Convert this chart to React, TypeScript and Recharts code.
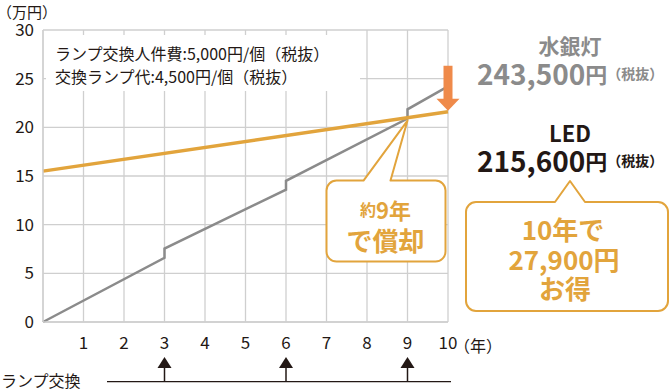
import { LineChart, Line, XAxis, YAxis, CartesianGrid, ReferenceDot } from "recharts";

// years on the x axis, cost in 万円 on the y axis
const yearTicks = [1, 2, 3, 4, 5, 6, 7, 8, 9, 10];
const costTicks = [0, 5, 10, 15, 20, 25, 30];

// 水銀灯: steps up at every lamp change
const mercuryYears = [0, 3, 3, 6, 6, 9, 9, 10];
const mercuryCost = [0, 6.6, 7.55, 13.6, 14.5, 20.9, 21.85, 24.2];

// LED: initial cost, then only electricity
const ledYears = [0, 10];
const ledCost = [15.5, 21.6];

const lampChangeYears = [3, 6, 9];
const breakEvenYear = 9;
const breakEvenCost = 20.9;

const mercuryData = mercuryYears.map((year, i) => ({ year, cost: mercuryCost[i] }));
const ledData = ledYears.map((year, i) => ({ year, cost: ledCost[i] }));

const FONT = '"Noto Sans CJK JP", "Noto Sans", sans-serif';
const INK = "#231815";
const GRID = "#cfcfcf";
const GOLD = "#e2a43c";
const GRAY = "#8b8b8b";
const ARROW = "#ef8a4a";

function calloutPath(l: number, t: number, r: number, b: number, bl: number, br: number, ax: number, ay: number, rad: number) {
	return `M${l + rad},${t} H${bl} L${ax},${ay} L${br},${t} H${r - rad} A${rad},${rad} 0 0 1 ${r},${t + rad} V${b - rad} A${rad},${rad} 0 0 1 ${r - rad},${b} H${l + rad} A${rad},${rad} 0 0 1 ${l},${b - rad} V${t + rad} A${rad},${rad} 0 0 1 ${l + rad},${t} Z`;
}

// 約9年で償却 bubble, pointing at the break-even point
function BreakEvenBubble(props: any) {
	const { cx, cy } = props;
	const ay = cy + 2;
	return (
		<g>
			<path
				d={calloutPath(cx - 81, cy + 62, cx + 38, cy + 143, cx - 44, cx - 17, cx, ay, 10)}
				fill="#fff"
				stroke={GOLD}
				strokeWidth={2}
				strokeLinejoin="round"
			/>
			<text x={cx - 22} y={cy + 90} textAnchor="middle" dominantBaseline="central" fill={GOLD} fontFamily={FONT} fontWeight={700}>
				<tspan fontSize={16}>約</tspan>
				<tspan fontSize={22}>9年</tspan>
			</text>
			<text x={cx - 22} y={cy + 121} textAnchor="middle" dominantBaseline="central" fill={GOLD} fontFamily={FONT} fontWeight={700} fontSize={26}>
				で償却
			</text>
		</g>
	);
}

function DownArrow(props: any) {
	const { cx, cy } = props;
	const tip = cy - 1;
	return (
		<g fill={ARROW}>
			<rect x={cx - 4.5} y={tip - 45} width={9} height={34} />
			<polygon points={`${cx - 11.5},${tip - 12} ${cx + 11.5},${tip - 12} ${cx},${tip}`} />
		</g>
	);
}

function LampChangeArrow(props: any) {
	const { cx, cy } = props;
	return (
		<g>
			<line x1={cx} x2={cx} y1={cy + 44} y2={cy + 60} stroke={INK} strokeWidth={1.5} />
			<polygon points={`${cx - 7},${cy + 46} ${cx + 7},${cy + 46} ${cx},${cy + 35}`} fill={INK} />
		</g>
	);
}

export default function App() {
	return (
		<div style={{ position: "absolute", left: 0, top: 0, width: 670, height: 390, background: "#fff", fontFamily: FONT }}>
			<LineChart width={670} height={390} margin={{ top: 30, right: 222, bottom: 0, left: 0 }}>
				<CartesianGrid stroke={GRID} strokeWidth={1.3} />
				<XAxis
					type="number"
					dataKey="year"
					domain={[0, 10]}
					ticks={yearTicks}
					interval={0}
					height={68}
					tickLine={false}
					tickSize={0}
					tickMargin={15}
					axisLine={{ stroke: GRID, strokeWidth: 1.3 }}
					tick={{ fill: INK, fontSize: 17, fontFamily: FONT }}
				/>
				<YAxis
					type="number"
					dataKey="cost"
					domain={[0, 30]}
					ticks={costTicks}
					interval={0}
					width={43}
					tickLine={false}
					tickSize={0}
					tickMargin={9}
					axisLine={{ stroke: GRID, strokeWidth: 1.3 }}
					tick={{ fill: INK, fontSize: 17, fontFamily: FONT }}
				/>
				<Line data={mercuryData} dataKey="cost" type="linear" stroke={GRAY} strokeWidth={2.5} dot={false} isAnimationActive={false} />
				<Line data={ledData} dataKey="cost" type="linear" stroke={GOLD} strokeWidth={3.5} dot={false} isAnimationActive={false} />
				<ReferenceDot x={breakEvenYear} y={breakEvenCost} ifOverflow="visible" shape={BreakEvenBubble} />
				<ReferenceDot x={ledYears[1]} y={ledCost[1]} ifOverflow="visible" shape={DownArrow} />
				{lampChangeYears.map((y) => (
					<ReferenceDot key={y} x={y} y={0} ifOverflow="visible" shape={LampChangeArrow} />
				))}
			</LineChart>
			<svg width={670} height={390} style={{ position: "absolute", left: 0, top: 0, pointerEvents: "none" }} fontFamily={FONT}>
				<text x={-3} y={11} dominantBaseline="central" fontSize={15} fill={INK}>（万円）</text>
				<rect x={46} y={35} width={314} height={56} fill="#fff" />
				<text x={55} y={53} dominantBaseline="central" fontSize={16} fill={INK}>ランプ交換人件費:5,000円/個（税抜）</text>
				<text x={55} y={76} dominantBaseline="central" fontSize={16} fill={INK}>交換ランプ代:4,500円/個（税抜）</text>
				<text x={454} y={345} dominantBaseline="central" fontSize={16} fill={INK}>（年）</text>
				<text x={1} y={380} dominantBaseline="central" fontSize={16} fill={INK}>ランプ交換</text>
				<line x1={107} x2={451} y1={381.7} y2={381.7} stroke={INK} strokeWidth={1.3} />

				<text x={570} y={45} textAnchor="middle" dominantBaseline="central" fontSize={21} fontWeight={700} fill={GRAY}>水銀灯</text>
				<text x={477} y={73} dominantBaseline="central" fontWeight={700} fill={GRAY}>
					<tspan fontSize={28}>243,500</tspan>
					<tspan fontSize={22}>円</tspan>
					<tspan fontSize={14}>（税抜）</tspan>
				</text>
				<text x={570} y={132} textAnchor="middle" dominantBaseline="central" fontSize={22} fontWeight={700} fill={INK}>LED</text>
				<text x={477} y={160} dominantBaseline="central" fontWeight={700} fill={INK}>
					<tspan fontSize={28}>215,600</tspan>
					<tspan fontSize={22}>円</tspan>
					<tspan fontSize={14}>（税抜）</tspan>
				</text>

				<path d={calloutPath(466, 202, 668, 311, 555, 585, 570, 181, 10)} fill="#fff" stroke={GOLD} strokeWidth={2} strokeLinejoin="round" />
				<text x={563} y={228} textAnchor="middle" dominantBaseline="central" fontSize={26} fontWeight={700} fill={GOLD}>10年で</text>
				<text x={564} y={258} textAnchor="middle" dominantBaseline="central" fontSize={26} fontWeight={700} fill={GOLD}>27,900円</text>
				<text x={565} y={287} textAnchor="middle" dominantBaseline="central" fontSize={26} fontWeight={700} fill={GOLD}>お得</text>
			</svg>
		</div>
	);
}
